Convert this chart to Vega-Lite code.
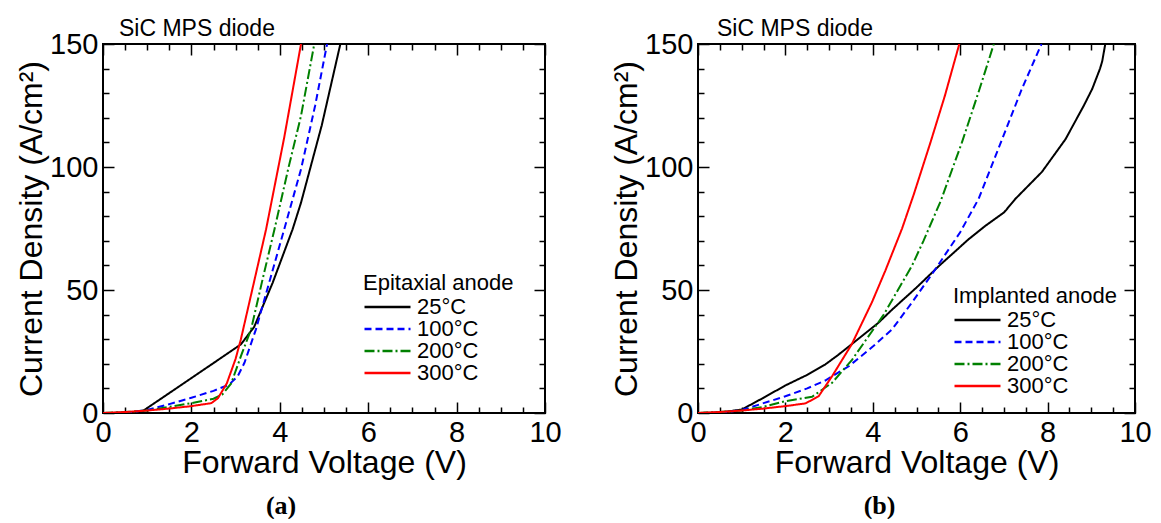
{
  "$schema": "https://vega.github.io/schema/vega-lite/v6.json",
  "background": "white",
  "padding": {"left": 14, "top": 17, "right": 0, "bottom": 0},
  "spacing": 46,
  "resolve": {"scale": {"color": "independent", "strokeDash": "independent"}, "legend": {"color": "independent", "strokeDash": "independent"}},
  "config": {
    "font": "Liberation Sans",
    "view": {"stroke": "black", "strokeWidth": 2},
    "axis": {
      "grid": false, "domain": false,
      "tickColor": "black", "tickWidth": 1.5,
      "labelFont": "Liberation Sans", "labelFontSize": 29, "labelColor": "black",
      "labelFlush": false, "labelOverlap": false, "format": "d",
      "titleFont": "Liberation Sans", "titleFontSize": 32, "titleFontWeight": "normal", "titleColor": "black"
    },
    "legend": {
      "orient": "none", "padding": 0,
      "titleFont": "Liberation Sans", "titleFontSize": 22, "titleFontWeight": "normal", "titleColor": "black", "titlePadding": 1, "titleLimit": 300,
      "labelFont": "Liberation Sans", "labelFontSize": 22, "labelColor": "black", "labelOffset": 5,
      "symbolType": "stroke", "symbolSize": 2116, "symbolStrokeWidth": 2.5,
      "clipHeight": 22, "rowPadding": 0
    },
    "title": {"font": "Liberation Sans", "color": "black", "fontWeight": "normal"}
  },
  "datasets": {
    "epi": [
      {"s": "25°C", "v": 0, "j": 0}, {"s": "25°C", "v": 0.5, "j": 0.1}, {"s": "25°C", "v": 0.9, "j": 0.8}, {"s": "25°C", "v": 1.5, "j": 8.1}, {"s": "25°C", "v": 2, "j": 14.2}, {"s": "25°C", "v": 2.5, "j": 20.3}, {"s": "25°C", "v": 3.12, "j": 27.9}, {"s": "25°C", "v": 3.42, "j": 35}, {"s": "25°C", "v": 3.84, "j": 53}, {"s": "25°C", "v": 4.29, "j": 74.7}, {"s": "25°C", "v": 4.48, "j": 85.5}, {"s": "25°C", "v": 4.95, "j": 117}, {"s": "25°C", "v": 5.37, "j": 150},
      {"s": "100°C", "v": 0, "j": 0}, {"s": "100°C", "v": 0.5, "j": 0.1}, {"s": "100°C", "v": 1, "j": 1.2}, {"s": "100°C", "v": 1.5, "j": 3.6}, {"s": "100°C", "v": 2, "j": 6.2}, {"s": "100°C", "v": 2.5, "j": 9}, {"s": "100°C", "v": 2.85, "j": 11.5}, {"s": "100°C", "v": 3.05, "j": 15}, {"s": "100°C", "v": 3.2, "j": 20.4}, {"s": "100°C", "v": 3.46, "j": 34}, {"s": "100°C", "v": 3.78, "j": 54.3}, {"s": "100°C", "v": 4.1, "j": 74.7}, {"s": "100°C", "v": 4.48, "j": 99.1}, {"s": "100°C", "v": 4.8, "j": 125}, {"s": "100°C", "v": 5.07, "j": 150},
      {"s": "200°C", "v": 0, "j": 0}, {"s": "200°C", "v": 0.5, "j": 0.4}, {"s": "200°C", "v": 1, "j": 1}, {"s": "200°C", "v": 1.5, "j": 2.5}, {"s": "200°C", "v": 2, "j": 4}, {"s": "200°C", "v": 2.5, "j": 5.8}, {"s": "200°C", "v": 2.7, "j": 7.5}, {"s": "200°C", "v": 2.9, "j": 12}, {"s": "200°C", "v": 3.12, "j": 23.1}, {"s": "200°C", "v": 3.35, "j": 34}, {"s": "200°C", "v": 3.61, "j": 54.3}, {"s": "200°C", "v": 3.88, "j": 74.7}, {"s": "200°C", "v": 4.2, "j": 100}, {"s": "200°C", "v": 4.48, "j": 120.8}, {"s": "200°C", "v": 4.78, "j": 150},
      {"s": "300°C", "v": 0, "j": 0}, {"s": "300°C", "v": 0.5, "j": 0.4}, {"s": "300°C", "v": 1, "j": 1}, {"s": "300°C", "v": 1.5, "j": 1.8}, {"s": "300°C", "v": 2, "j": 2.8}, {"s": "300°C", "v": 2.45, "j": 4}, {"s": "300°C", "v": 2.6, "j": 6}, {"s": "300°C", "v": 2.8, "j": 12}, {"s": "300°C", "v": 3.0, "j": 22}, {"s": "300°C", "v": 3.12, "j": 30}, {"s": "300°C", "v": 3.43, "j": 54.3}, {"s": "300°C", "v": 3.69, "j": 74.7}, {"s": "300°C", "v": 4.1, "j": 112}, {"s": "300°C", "v": 4.48, "j": 150}
    ],
    "imp": [
      {"s": "25°C", "v": 0, "j": 0}, {"s": "25°C", "v": 0.5, "j": 0.2}, {"s": "25°C", "v": 1, "j": 1.4}, {"s": "25°C", "v": 1.5, "j": 6.2}, {"s": "25°C", "v": 2, "j": 11.2}, {"s": "25°C", "v": 2.5, "j": 15.5}, {"s": "25°C", "v": 2.91, "j": 19.7}, {"s": "25°C", "v": 3.2, "j": 23.5}, {"s": "25°C", "v": 3.52, "j": 28}, {"s": "25°C", "v": 4.13, "j": 36.7}, {"s": "25°C", "v": 4.44, "j": 42}, {"s": "25°C", "v": 5, "j": 51}, {"s": "25°C", "v": 5.51, "j": 59.7}, {"s": "25°C", "v": 6.19, "j": 70.6}, {"s": "25°C", "v": 6.57, "j": 76}, {"s": "25°C", "v": 7, "j": 81.5}, {"s": "25°C", "v": 7.05, "j": 82.5}, {"s": "25°C", "v": 7.26, "j": 87}, {"s": "25°C", "v": 7.87, "j": 98}, {"s": "25°C", "v": 8.41, "j": 111.3}, {"s": "25°C", "v": 8.83, "j": 125}, {"s": "25°C", "v": 9.02, "j": 131.7}, {"s": "25°C", "v": 9.2, "j": 140}, {"s": "25°C", "v": 9.25, "j": 143}, {"s": "25°C", "v": 9.32, "j": 150},
      {"s": "100°C", "v": 0, "j": 0}, {"s": "100°C", "v": 0.5, "j": 0.1}, {"s": "100°C", "v": 1, "j": 1.2}, {"s": "100°C", "v": 1.5, "j": 4}, {"s": "100°C", "v": 2, "j": 6.8}, {"s": "100°C", "v": 2.5, "j": 10}, {"s": "100°C", "v": 2.91, "j": 13.2}, {"s": "100°C", "v": 3.45, "j": 19}, {"s": "100°C", "v": 4, "j": 27}, {"s": "100°C", "v": 4.44, "j": 34}, {"s": "100°C", "v": 4.9, "j": 45}, {"s": "100°C", "v": 5.43, "j": 58.4}, {"s": "100°C", "v": 6, "j": 73.5}, {"s": "100°C", "v": 6.42, "j": 87}, {"s": "100°C", "v": 6.96, "j": 111.3}, {"s": "100°C", "v": 7.41, "j": 131.7}, {"s": "100°C", "v": 7.86, "j": 150},
      {"s": "200°C", "v": 0, "j": 0}, {"s": "200°C", "v": 0.5, "j": 0.4}, {"s": "200°C", "v": 1, "j": 1}, {"s": "200°C", "v": 1.5, "j": 2.5}, {"s": "200°C", "v": 2, "j": 4.8}, {"s": "200°C", "v": 2.61, "j": 6.6}, {"s": "200°C", "v": 3.07, "j": 12.3}, {"s": "200°C", "v": 3.52, "j": 21.5}, {"s": "200°C", "v": 4.25, "j": 40}, {"s": "200°C", "v": 4.9, "j": 60}, {"s": "200°C", "v": 5.16, "j": 70}, {"s": "200°C", "v": 5.55, "j": 86}, {"s": "200°C", "v": 6.04, "j": 110}, {"s": "200°C", "v": 6.43, "j": 131}, {"s": "200°C", "v": 6.77, "j": 150},
      {"s": "300°C", "v": 0, "j": 0}, {"s": "300°C", "v": 0.5, "j": 0.4}, {"s": "300°C", "v": 1, "j": 1}, {"s": "300°C", "v": 1.5, "j": 1.8}, {"s": "300°C", "v": 2, "j": 2.8}, {"s": "300°C", "v": 2.46, "j": 3.9}, {"s": "300°C", "v": 2.76, "j": 6.8}, {"s": "300°C", "v": 3.07, "j": 15}, {"s": "300°C", "v": 3.52, "j": 28}, {"s": "300°C", "v": 3.98, "j": 45}, {"s": "300°C", "v": 4.29, "j": 58}, {"s": "300°C", "v": 4.67, "j": 75}, {"s": "300°C", "v": 4.94, "j": 89}, {"s": "300°C", "v": 5.32, "j": 110}, {"s": "300°C", "v": 5.65, "j": 129}, {"s": "300°C", "v": 5.98, "j": 150}
    ]
  },
  "hconcat": [
    {
      "title": {"text": "(a)", "orient": "bottom", "anchor": "middle", "frame": "bounds", "offset": 14, "dx": -7, "font": "Liberation Serif", "fontSize": 26, "fontWeight": "bold"},
      "vconcat": [
        {
          "title": {"text": "SiC MPS diode", "anchor": "start", "frame": "group", "dx": 16, "offset": -11, "fontSize": 23},
          "width": 442, "height": 369,
          "data": {"name": "epi"},
          "layer": [
            {
              "mark": {"type": "line", "strokeWidth": 2, "clip": true},
              "encoding": {
                "x": {"field": "v", "type": "quantitative", "scale": {"domain": [0, 10], "nice": false, "zero": false},
                  "axis": {"orient": "bottom", "title": "Forward Voltage (V)", "values": [0,0.5,1,1.5,2,2.5,3,3.5,4,4.5,5,5.5,6,6.5,7,7.5,8,8.5,9,9.5,10],
                    "labelExpr": "datum.value % 2 === 0 ? datum.label : ''",
                    "tickSize": {"condition": {"test": "datum.value % 2 === 0", "value": -11}, "value": -6},
                    "labelPadding": 16, "minExtent": 29, "maxExtent": 29, "titlePadding": 5}},
                "y": {"field": "j", "type": "quantitative", "scale": {"domain": [0, 150], "nice": false},
                  "axis": {"orient": "left", "title": "Current Density (A/cm²)", "values": [0,10,20,30,40,50,60,70,80,90,100,110,120,130,140,150],
                    "labelExpr": "datum.value % 50 === 0 ? datum.label : ''",
                    "tickSize": {"condition": {"test": "datum.value % 50 === 0", "value": -11}, "value": -6},
                    "labelPadding": 16, "minExtent": 52, "maxExtent": 52, "titlePadding": 3}},
                "color": {"field": "s", "type": "nominal", "title": "Epitaxial anode",
                  "scale": {"domain": ["25°C", "100°C", "200°C", "300°C"], "range": ["#000000", "#0000ff", "#008000", "#ff0000"]},
                  "legend": {"legendX": 260, "legendY": 229}},
                "strokeDash": {"field": "s", "type": "nominal", "title": "Epitaxial anode",
                  "scale": {"domain": ["25°C", "100°C", "200°C", "300°C"], "range": [[1, 0], [7, 4], [10, 3, 2, 3], [1, 0]]},
                  "legend": {"legendX": 260, "legendY": 229}}
              }
            },
            {
              "mark": {"type": "line", "opacity": 0},
              "encoding": {
                "x": {"field": "v", "type": "quantitative", "scale": {"domain": [0, 10], "nice": false, "zero": false},
                  "axis": {"orient": "top", "title": null, "labels": false, "values": [0,0.5,1,1.5,2,2.5,3,3.5,4,4.5,5,5.5,6,6.5,7,7.5,8,8.5,9,9.5,10],
                    "tickSize": {"condition": {"test": "datum.value % 2 === 0", "value": -11}, "value": -6}}},
                "y": {"field": "j", "type": "quantitative", "scale": {"domain": [0, 150], "nice": false},
                  "axis": {"orient": "right", "title": null, "labels": false, "values": [0,10,20,30,40,50,60,70,80,90,100,110,120,130,140,150],
                    "tickSize": {"condition": {"test": "datum.value % 50 === 0", "value": -11}, "value": -6}}},
                "detail": {"field": "s"}
              }
            }
          ],
          "resolve": {"axis": {"x": "independent", "y": "independent"}}
        }
      ]
    },
    {
      "title": {"text": "(b)", "orient": "bottom", "anchor": "middle", "frame": "bounds", "offset": 14, "dx": -1, "font": "Liberation Serif", "fontSize": 26, "fontWeight": "bold"},
      "vconcat": [
        {
          "title": {"text": "SiC MPS diode", "anchor": "start", "frame": "group", "dx": 19, "offset": -11, "fontSize": 23},
          "width": 437, "height": 369,
          "data": {"name": "imp"},
          "layer": [
            {
              "mark": {"type": "line", "strokeWidth": 2, "clip": true},
              "encoding": {
                "x": {"field": "v", "type": "quantitative", "scale": {"domain": [0, 10], "nice": false, "zero": false},
                  "axis": {"orient": "bottom", "title": "Forward Voltage (V)", "values": [0,0.5,1,1.5,2,2.5,3,3.5,4,4.5,5,5.5,6,6.5,7,7.5,8,8.5,9,9.5,10],
                    "labelExpr": "datum.value % 2 === 0 ? datum.label : ''",
                    "tickSize": {"condition": {"test": "datum.value % 2 === 0", "value": -11}, "value": -6},
                    "labelPadding": 16, "minExtent": 29, "maxExtent": 29, "titlePadding": 5}},
                "y": {"field": "j", "type": "quantitative", "scale": {"domain": [0, 150], "nice": false},
                  "axis": {"orient": "left", "title": "Current Density (A/cm²)", "values": [0,10,20,30,40,50,60,70,80,90,100,110,120,130,140,150],
                    "labelExpr": "datum.value % 50 === 0 ? datum.label : ''",
                    "tickSize": {"condition": {"test": "datum.value % 50 === 0", "value": -11}, "value": -6},
                    "labelPadding": 16, "minExtent": 52, "maxExtent": 52, "titlePadding": 3}},
                "color": {"field": "s", "type": "nominal", "title": "Implanted anode",
                  "scale": {"domain": ["25°C", "100°C", "200°C", "300°C"], "range": ["#000000", "#0000ff", "#008000", "#ff0000"]},
                  "legend": {"legendX": 255, "legendY": 242}},
                "strokeDash": {"field": "s", "type": "nominal", "title": "Implanted anode",
                  "scale": {"domain": ["25°C", "100°C", "200°C", "300°C"], "range": [[1, 0], [7, 4], [10, 3, 2, 3], [1, 0]]},
                  "legend": {"legendX": 255, "legendY": 242}}
              }
            },
            {
              "mark": {"type": "line", "opacity": 0},
              "encoding": {
                "x": {"field": "v", "type": "quantitative", "scale": {"domain": [0, 10], "nice": false, "zero": false},
                  "axis": {"orient": "top", "title": null, "labels": false, "values": [0,0.5,1,1.5,2,2.5,3,3.5,4,4.5,5,5.5,6,6.5,7,7.5,8,8.5,9,9.5,10],
                    "tickSize": {"condition": {"test": "datum.value % 2 === 0", "value": -11}, "value": -6}}},
                "y": {"field": "j", "type": "quantitative", "scale": {"domain": [0, 150], "nice": false},
                  "axis": {"orient": "right", "title": null, "labels": false, "values": [0,10,20,30,40,50,60,70,80,90,100,110,120,130,140,150],
                    "tickSize": {"condition": {"test": "datum.value % 50 === 0", "value": -11}, "value": -6}}},
                "detail": {"field": "s"}
              }
            }
          ],
          "resolve": {"axis": {"x": "independent", "y": "independent"}}
        }
      ]
    }
  ]
}
